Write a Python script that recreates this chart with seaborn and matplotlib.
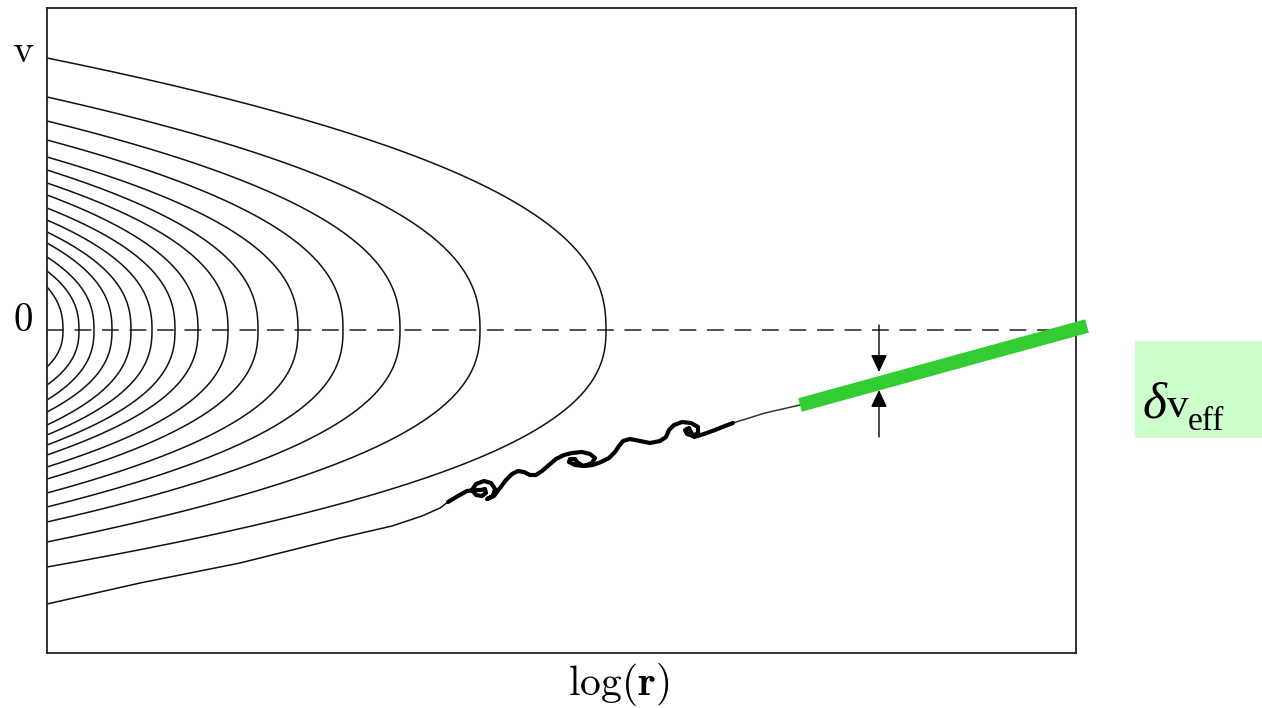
import numpy as np
import pandas as pd
import matplotlib
matplotlib.use("Agg")
import matplotlib.pyplot as plt
import seaborn as sns
from matplotlib.patches import Rectangle

# units: log(r) from the left frame, v above the dashed zero line
# closed orbits (outer -> inner): turning point on v=0, start on top, end on bottom
turn_x = [5.59, 4.33, 3.53, 2.96, 2.51, 2.11, 1.81, 1.51, 1.28, 1.05, 0.84, 0.65, 0.47, 0.32, 0.16]
v_top = [2.72, 2.33, 2.09, 1.90, 1.73, 1.60, 1.47, 1.35, 1.22, 1.10, 0.98, 0.87, 0.73, 0.59, 0.43]
v_bot = [-2.37, -2.12, -1.92, -1.77, -1.63, -1.49, -1.37, -1.25, -1.15, -1.05, -0.95, -0.82, -0.70, -0.55, -0.37]

# lowest (open) orbit up to the turbulent part
open_x = [0, 0.93, 1.93, 2.93, 3.45, 3.75, 3.93, 4.01]
open_v = [-2.74, -2.53, -2.33, -2.08, -1.96, -1.86, -1.78, -1.72]

# turbulent squiggle with three curls
sq_x = [4.01, 4.11, 4.20, 4.29, 4.34, 4.38, 4.39, 4.35, 4.29, 4.25, 4.29, 4.37, 4.44, 4.48,
        4.46, 4.40, 4.47, 4.53, 4.59, 4.65, 4.71, 4.77, 4.83, 4.89, 4.95, 5.02, 5.09, 5.17,
        5.25, 5.35, 5.43, 5.48, 5.45, 5.37, 5.28, 5.22, 5.23, 5.28, 5.30, 5.36, 5.46, 5.54,
        5.62, 5.68, 5.72, 5.76, 5.83, 5.93, 6.03, 6.13, 6.19, 6.22, 6.27, 6.35, 6.44, 6.51,
        6.51, 6.46, 6.40, 6.38, 6.42, 6.44, 6.47, 6.57, 6.68, 6.78, 6.86]
sq_v = [-1.72, -1.66, -1.61, -1.60, -1.60, -1.59, -1.63, -1.66, -1.65, -1.60, -1.54, -1.51, -1.53, -1.59,
        -1.66, -1.69, -1.66, -1.58, -1.50, -1.44, -1.41, -1.42, -1.45, -1.45, -1.41, -1.35, -1.29, -1.25,
        -1.23, -1.22, -1.24, -1.28, -1.33, -1.36, -1.35, -1.32, -1.29, -1.29, -1.32, -1.36, -1.35, -1.32,
        -1.28, -1.22, -1.16, -1.11, -1.09, -1.11, -1.13, -1.11, -1.07, -1.00, -0.95, -0.92, -0.93, -0.97,
        -1.03, -1.06, -1.04, -1.00, -0.98, -1.02, -1.07, -1.04, -1.00, -0.96, -0.93]

tail_x = [6.86, 7.18, 7.53]
tail_v = [-0.93, -0.83, -0.75]

# effective (averaged) profile, green
eff_x = [7.53, 10.40]
eff_v = [-0.75, 0.04]

# arrows marking delta v_eff
arrow_x = 8.32
arrow_top = (0.05, -0.42)
arrow_bot = (-1.07, -0.60)

sns.set_style("white")
plt.rcParams["mathtext.fontset"] = "cm"
plt.rcParams["text.color"] = "black"

fig = plt.figure(figsize=(12.62, 7.08), dpi=100)
ax = fig.add_axes([47 / 1262, 55 / 708, 1029 / 1262, 645 / 708])

# build orbit table
rows = []
s = np.linspace(-1, 1, 241)
for i, (tx, vt, vb) in enumerate(zip(turn_x, v_top, v_bot)):
    xs = tx * (1 - np.abs(s) ** 2.4)
    vs = np.where(s >= 0, s * vt, -s * vb)
    for a, b in zip(xs, vs):
        rows.append((i, a, b))
df = pd.DataFrame(rows, columns=["orbit", "logr", "v"])

sns.lineplot(data=df, x="logr", y="v", units="orbit", estimator=None, sort=False,
             color="#111111", lw=1.1, ax=ax)
sns.lineplot(x=open_x, y=open_v, sort=False, estimator=None, color="#111111", lw=1.1, ax=ax)
sns.lineplot(x=tail_x, y=tail_v, sort=False, estimator=None, color="#333333", lw=1.1, ax=ax)
sns.lineplot(x=sq_x, y=sq_v, sort=False, estimator=None, color="black", lw=3.0, ax=ax)
ax.plot(eff_x, eff_v, color="#33cc33", lw=10, solid_capstyle="butt", clip_on=False, zorder=5)

ax.axhline(0, color="#222222", lw=1.1, ls=(0, (11, 7)), zorder=1)

for tail, tip in [arrow_top, arrow_bot]:
    ax.annotate("", xy=(arrow_x, tip), xytext=(arrow_x, tail),
                arrowprops=dict(arrowstyle="-|>,head_length=0.7,head_width=0.33",
                                mutation_scale=15, color="black", lw=1.0,
                                shrinkA=0, shrinkB=0))

ax.set_xlim(0, 10.29)
ax.set_ylim(-3.23, 3.22)
ax.set_xticks([])
ax.set_yticks([])
ax.set_xlabel("")
ax.set_ylabel("")
for sp in ax.spines.values():
    sp.set_visible(True)
    sp.set_color("#222222")
    sp.set_linewidth(1.3)

ax.text(-0.24, 2.68, r"$\mathrm{v}$", fontsize=29, ha="center", va="baseline")
ax.text(-0.24, -0.01, r"$0$", fontsize=28, ha="center", va="baseline")
ax.text(5.72, -3.65, r"$\log(\mathbf{r})$", fontsize=30, ha="center", va="baseline",
        clip_on=False)

# delta v_eff label on a pale green box
ax.add_patch(Rectangle((10.88, -1.08), 1.30, 0.97, facecolor="#ccffcc", edgecolor="none",
                       clip_on=False, zorder=0))
ax.text(10.95, -0.87, "δ", fontsize=37, fontstyle="italic", family="Liberation Serif",
        ha="left", va="baseline")
ax.text(11.20, -0.87, "v", fontsize=31, family="Liberation Serif", ha="left", va="baseline")
ax.text(11.41, -1.00, "eff", fontsize=24, family="Liberation Serif", ha="left", va="baseline")

fig.savefig("out.png", dpi=100)
